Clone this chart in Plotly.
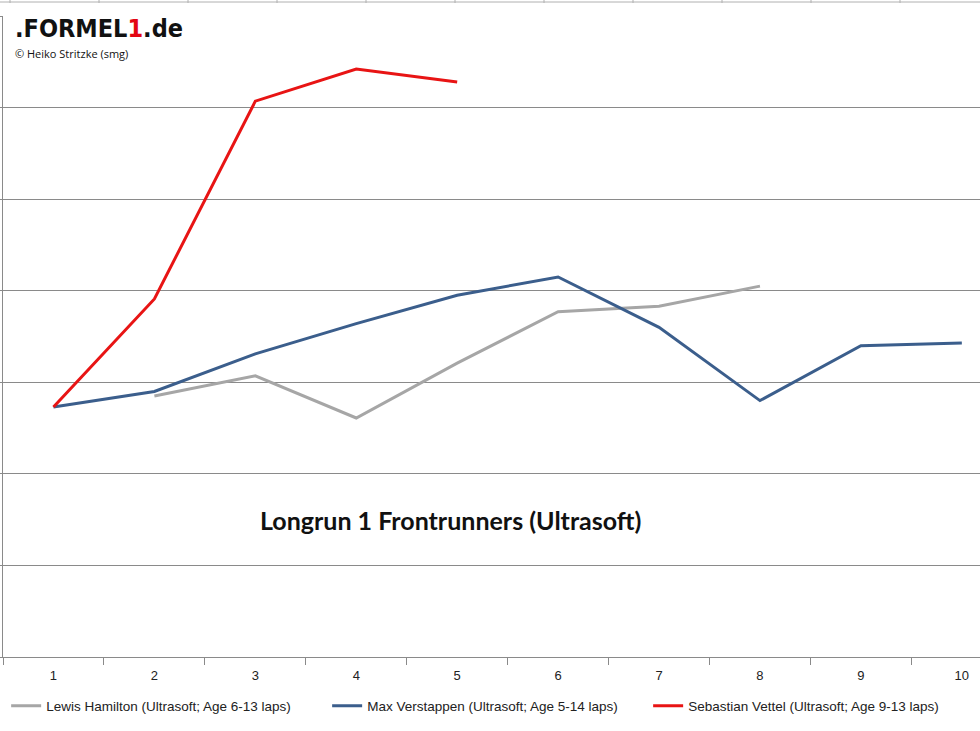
import plotly.graph_objects as go

laps = [1, 2, 3, 4, 5, 6, 7, 8, 9, 10]
tick_labels = ["1", "2", "3", "4", "5", "6", "7", "8", "9", "10"]

hamilton_x = [2, 3, 4, 5, 6, 7, 8]
hamilton_y = [2.85, 3.07, 2.61, 3.21, 3.77, 3.83, 4.05]

verstappen_x = [1, 2, 3, 4, 5, 6, 7, 8, 9, 10]
verstappen_y = [2.73, 2.90, 3.31, 3.64, 3.95, 4.15, 3.60, 2.80, 3.40, 3.43]

vettel_x = [1, 2, 3, 4, 5]
vettel_y = [2.73, 3.91, 6.07, 6.42, 6.28]

names = [
    "Lewis Hamilton (Ultrasoft; Age 6-13 laps)",
    "Max Verstappen (Ultrasoft; Age 5-14 laps)",
    "Sebastian Vettel (Ultrasoft; Age 9-13 laps)",
]
colors = ["#A6A6A6", "#3B5E8C", "#E81414"]

fig = go.Figure()
for xs, ys, n, c in zip([hamilton_x, verstappen_x, vettel_x],
                        [hamilton_y, verstappen_y, vettel_y], names, colors):
    fig.add_trace(go.Scatter(x=xs, y=ys, mode="lines", name=n,
                             line=dict(color=c, width=3)))

grid_col = "#8A8A8A"
W, H = 980, 731
L, R, T, B = 3, 0, 16, 74
PW, PH = W - L - R, H - T - B


def px(x):
    return (x - L) / PW


def py(y):
    return (H - B - y) / PH


fig.update_layout(
    width=W, height=H,
    margin=dict(l=L, r=R, t=T, b=B, autoexpand=False),
    paper_bgcolor="white", plot_bgcolor="white",
    font=dict(family="Liberation Sans, Arial, sans-serif", size=13, color="#222"),
    xaxis=dict(range=[0.5, 10.18], tickvals=laps, ticktext=tick_labels,
               ticks="", showgrid=False, zeroline=False, automargin=False,
               showline=True, linecolor=grid_col, linewidth=1,
               ticklabelstandoff=6,
               tickfont=dict(size=13, color="#222"),
               minor=dict(tick0=0.5, dtick=1, ticks="outside", ticklen=7,
                          tickcolor=grid_col, showgrid=False)),
    yaxis=dict(range=[0, 7], dtick=1, showticklabels=False, ticks="outside",
               ticklen=3, tickcolor=grid_col, showgrid=True, gridcolor=grid_col,
               gridwidth=1, zeroline=False, showline=True, linecolor=grid_col,
               linewidth=1, automargin=False),
    showlegend=True,
    legend=dict(orientation="h", x=px(12) - 0.006, xanchor="left", y=py(706), yanchor="middle",
                font=dict(size=13.5, color="#222"), itemwidth=30,
                entrywidth=276, bgcolor="rgba(0,0,0,0)"),
)

fig.add_annotation(text="<b>Longrun 1 Frontrunners (Ultrasoft)</b>",
                   xref="paper", yref="paper", x=px(450), y=py(520), yanchor="middle",
                   showarrow=False, font=dict(family="Lato, sans-serif", size=25, color="#111"))
fig.add_annotation(text=".FORMEL<span style='color:#E30613'>1</span>.de",
                   xref="paper", yref="paper", x=px(13), y=py(28), xanchor="left", yanchor="middle",
                   showarrow=False,
                   font=dict(family="DejaVu Sans Condensed, DejaVu Sans, sans-serif", size=25,
                             color="#111", weight="bold"))
fig.add_annotation(text="© Heiko Stritzke (smg)",
                   xref="paper", yref="paper", x=px(13), y=py(53), xanchor="left", yanchor="middle",
                   showarrow=False, font=dict(family="Open Sans, sans-serif", size=11, color="#111"))

# spreadsheet strip above the chart
for xp in range(10, 980, 89):
    fig.add_shape(type="line", xref="paper", yref="paper",
                  x0=px(xp), x1=px(xp), y0=py(0), y1=py(3),
                  line=dict(color="#B0B0B0", width=1))
fig.add_shape(type="line", xref="paper", yref="paper", x0=px(0), x1=px(980),
              y0=py(2), y1=py(2), line=dict(color="#B0B0B0", width=1))

fig.write_html("out.html", config={"displayModeBar": False},
               post_script="document.body.style.margin='0px';document.body.style.overflow='hidden';")
